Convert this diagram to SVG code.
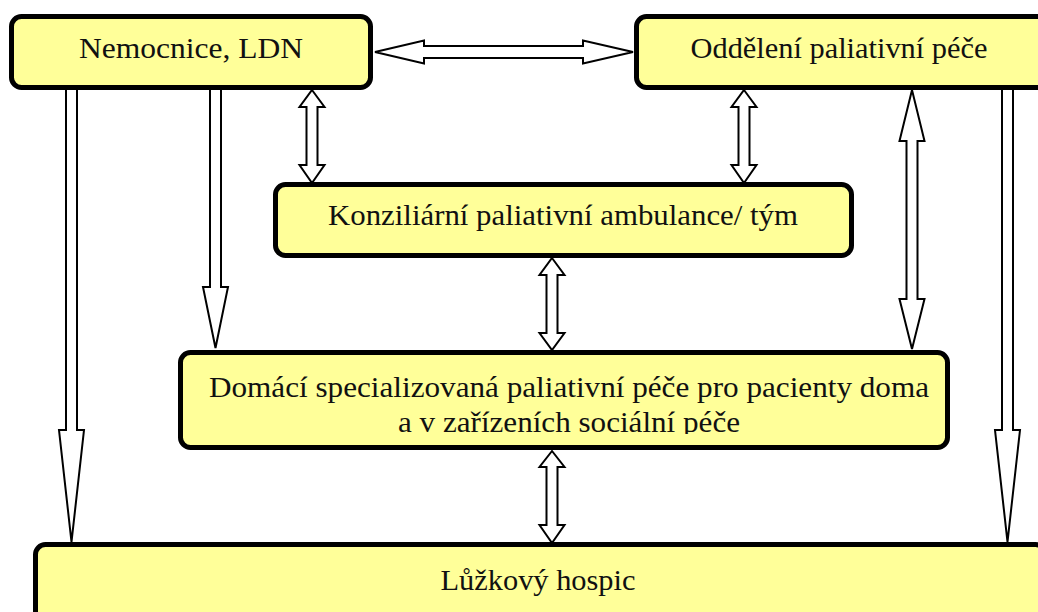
<svg xmlns="http://www.w3.org/2000/svg" width="1038" height="612" viewBox="0 0 1038 612">
<defs>
<style>
.box{fill:#FFFF99;stroke:#000;stroke-width:5}
.arr{fill:#fff;stroke:#000;stroke-width:2;stroke-linejoin:miter}
.t{font-size:30px;fill:#111;text-anchor:middle}
</style>
<clipPath id="clipDom"><rect x="180" y="352" width="770" height="82"/></clipPath>
</defs>
<rect width="1038" height="612" fill="#fff"/>
<g id="connectors">
<polygon class="arr" points="375,52 424,40.5 424,46 583,46 583,40.5 633,52 583,63.5 583,58 424,58 424,63.5"/>
<polygon class="arr" points="312,90 324.5,107 317.5,107 317.5,165 324.5,165 312,183 299.5,165 306.5,165 306.5,107 299.5,107"/>
<polygon class="arr" points="744,90 756.5,107 749.5,107 749.5,165 756.5,165 744,183 731.5,165 738.5,165 738.5,107 731.5,107"/>
<polygon class="arr" points="552,258 564.5,275 557.5,275 557.5,333 564.5,333 552,350 539.5,333 546.5,333 546.5,275 539.5,275"/>
<polygon class="arr" points="552,451 564.5,467 557.5,467 557.5,525 564.5,525 552,543 539.5,525 546.5,525 546.5,467 539.5,467"/>
<polygon class="arr" points="912,90 924.5,141 917.5,141 917.5,299 924.5,299 912,349 899.5,299 906.5,299 906.5,141 899.5,141"/>
<polygon class="arr" points="66,86 77,86 77,430 84,430 71.5,542 59,430 66,430"/>
<polygon class="arr" points="210,86 221,86 221,287 228,287 215.5,348 203,287 210,287"/>
<polygon class="arr" points="1002,86 1013,86 1013,430 1020,430 1007.5,542 995,430 1002,430"/>
</g>
<g id="nemocnice">
<rect class="box" x="11.5" y="16.5" width="359" height="71" rx="10"/>
<text class="t" font-family="Liberation Serif, DejaVu Serif, Times New Roman, serif" x="191" y="58" textLength="224" lengthAdjust="spacingAndGlyphs">Nemocnice, LDN</text>
</g>
<g id="oddeleni">
<rect class="box" x="636.5" y="16.5" width="420" height="71" rx="10"/>
<text class="t" font-family="Liberation Serif, DejaVu Serif, Times New Roman, serif" x="839" y="58" textLength="297" lengthAdjust="spacingAndGlyphs">Oddělení paliativní péče</text>
</g>
<g id="konziliarni">
<rect class="box" x="275.5" y="184.5" width="576" height="71" rx="10"/>
<text class="t" font-family="Liberation Serif, DejaVu Serif, Times New Roman, serif" x="563" y="225" textLength="470" lengthAdjust="spacingAndGlyphs">Konziliární paliativní ambulance/ tým</text>
</g>
<g id="domaci">
<rect class="box" x="180.5" y="352.5" width="767" height="95" rx="10"/>
<g clip-path="url(#clipDom)">
<text class="t" font-family="Liberation Serif, DejaVu Serif, Times New Roman, serif" x="569" y="397" textLength="720" lengthAdjust="spacingAndGlyphs">Domácí specializovaná paliativní péče pro pacienty doma</text>
<text class="t" font-family="Liberation Serif, DejaVu Serif, Times New Roman, serif" x="569" y="432" textLength="342" lengthAdjust="spacingAndGlyphs">a v zařízeních sociální péče</text>
</g>
</g>
<g id="hospic">
<rect class="box" x="35.5" y="544.5" width="1010" height="100" rx="10"/>
<text class="t" font-family="Liberation Serif, DejaVu Serif, Times New Roman, serif" x="538" y="590" textLength="195" lengthAdjust="spacingAndGlyphs">Lůžkový hospic</text>
</g>
</svg>
